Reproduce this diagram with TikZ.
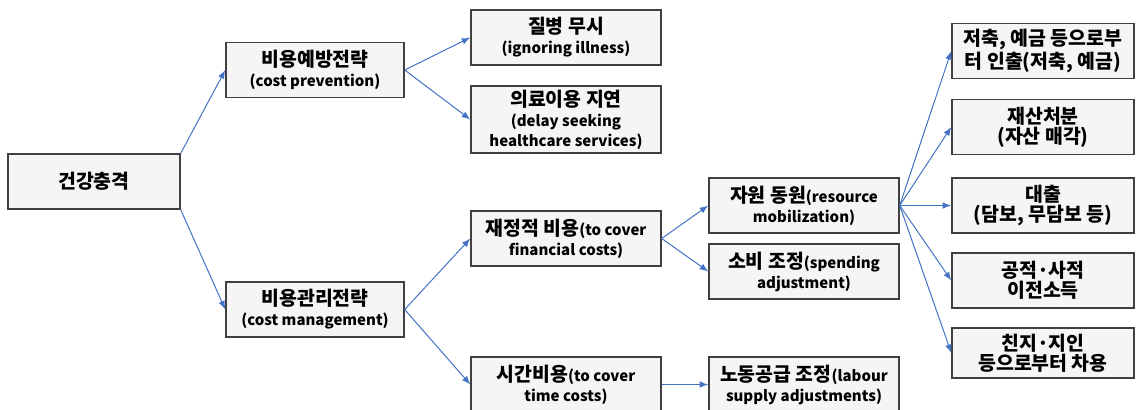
\documentclass[tikz,border=0pt]{standalone}
\usepackage{fontspec}
\setmainfont{Noto Sans CJK KR}
\usepackage{tikz}
\usetikzlibrary{arrows}
\definecolor{boxline}{HTML}{404040}
\definecolor{boxfill}{HTML}{F5F5F5}
\definecolor{linkblue}{HTML}{4472C4}
% smaller size for the english glosses
\newcommand{\eng}[1]{{\fontsize{7.5}{10}\selectfont #1}}
\tikzset{>=latex}
\tikzset{font=\fontsize{9.7}{10}\selectfont\bfseries}
\tikzset{stage/.style={draw=boxline, line width=0.7pt, fill=boxfill,
    align=center, inner sep=0pt, minimum height=27.5pt}}
\tikzset{link/.style={->, draw=linkblue, line width=0.5pt}}

\begin{document}
\begin{tikzpicture}[x=0.5pt, y=-0.5pt]
          \useasboundingbox (0,0) rectangle (1136,409);
          % first two levels
          \node[stage, minimum width=86pt] (shock) at (94,181.5) {건강충격};
          \node[stage, minimum width=89pt] (prevent) at (315,70) {비용예방전략\\\eng{(cost prevention)}};
          \node[stage, minimum width=89pt] (manage) at (315,309.5) {비용관리전략\\\eng{(cost management)}};
          % coping responses
          \node[stage, minimum width=95pt] (ignore) at (566,37.5) {질병 무시\\\eng{(ignoring illness)}};
          \node[stage, minimum width=95pt, minimum height=33.5pt] (delay) at (566,119.5) {의료이용 지연\\\eng{(delay seeking}\\\eng{healthcare services)}};
          \node[stage, minimum width=95pt] (finance) at (566,238.5) {재정적 비용\eng{(to cover}\\\eng{financial costs)}};
          \node[stage, minimum width=95pt] (timecost) at (566,384.5) {시간비용\eng{(to cover}\\\eng{time costs)}};
          \node[stage, minimum width=95pt] (mobilize) at (804,205.5) {자원 동원\eng{(resource}\\\eng{mobilization)}};
          \node[stage, minimum width=95pt] (spending) at (804,271.5) {소비 조정\eng{(spending}\\\eng{adjustment)}};
          \node[stage, minimum width=95pt] (labour) at (804,384.5) {노동공급 조정\eng{(labour}\\\eng{supply adjustments)}};
          % sources of money
          \node[stage, minimum width=91pt] (savings) at (1043,51) {저축, 예금 등으로부\\터 인출(저축, 예금)};
          \node[stage, minimum width=91pt] (assets) at (1043,127) {재산처분\\(자산 매각)};
          \node[stage, minimum width=91pt] (loan) at (1043,205.5) {대출\\(담보, 무담보 등)};
          \node[stage, minimum width=91pt] (transfer) at (1043,280.5) {공적·사적\\이전소득};
          \node[stage, minimum width=91pt, minimum height=25pt] (borrow) at (1043,353) {친지·지인\\등으로부터 차용};
          % connectors
          \draw[link] (shock.north east) -- (prevent.west);
          \draw[link] (shock.south east) -- (manage.west);
          \draw[link] (prevent.east) -- (ignore.west);
          \draw[link] (prevent.east) -- (delay.west);
          \draw[link] (manage.east) -- (finance.west);
          \draw[link] (manage.east) -- (timecost.west);
          \draw[link] (finance.east) -- (mobilize.west);
          \draw[link] (finance.east) -- (spending.west);
          \draw[link] (timecost.east) -- (labour.west);
          \foreach \dest in {savings,assets,loan,transfer,borrow}
            \draw[link] (mobilize.east) -- (\dest.west);
        \end{tikzpicture}
\end{document}
